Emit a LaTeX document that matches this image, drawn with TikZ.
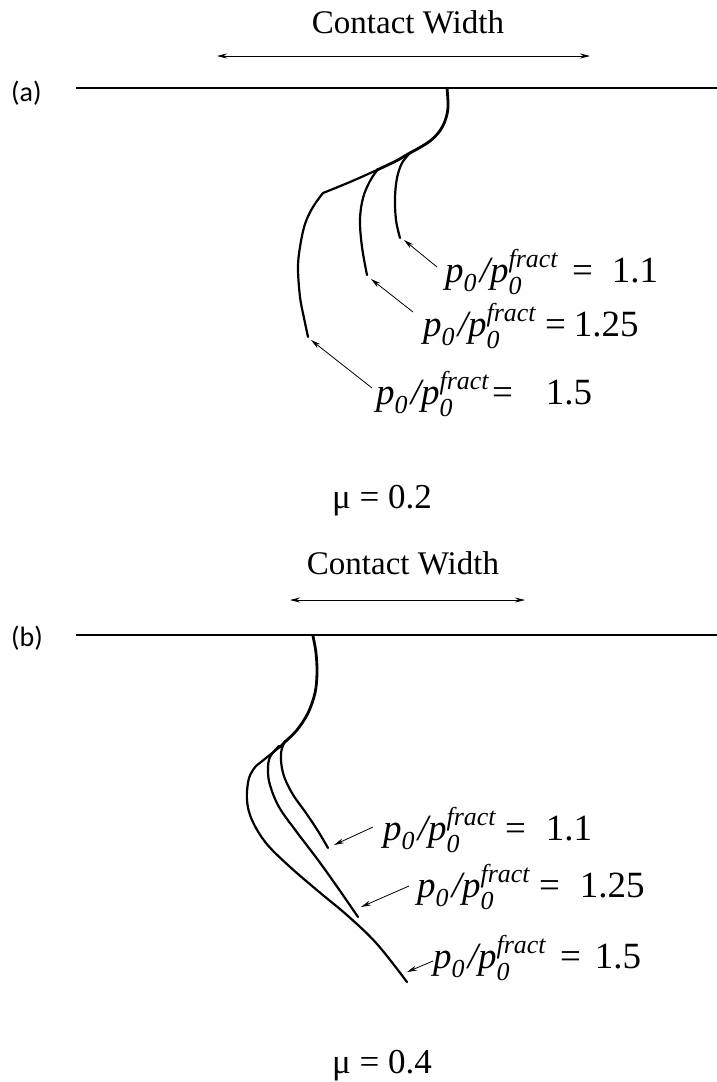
\documentclass[tikz,border=0pt]{standalone}
\usepackage{amsmath}
\usepackage{fontspec}
\setmainfont{Liberation Serif}
\newfontfamily\panelfont{Carlito}
\usetikzlibrary{arrows.meta}
\newcommand{\pratio}{$\text{\itshape p}_{\text{\itshape 0}}\mkern2mu\text{\itshape /}\text{\itshape p}_{\text{\itshape 0}}^{\text{\itshape fract}}$}
\newcommand{\plabel}[3]{\pratio\hspace{#1}=\hspace{#2}#3}
\tikzset{
  surface/.style={line width=1.8pt},
  crack/.style={line width=2.2pt, line cap=round, line join=round},
  bundle/.style={line width=2.8pt, line cap=round, line join=round},
  pointer/.style={line width=0.8pt, -{Stealth[length=10pt,width=5pt]}},
  widtharrow/.style={line width=0.8pt, {Stealth[length=10pt,width=5pt]}-{Stealth[length=10pt,width=5pt]}},
  lab/.style={anchor=base west, inner sep=0pt, font=\fontsize{37}{42}\selectfont},
  cwtext/.style={anchor=base, inner sep=0pt, font=\fontsize{33}{38}\selectfont},
  mutext/.style={anchor=base west, inner sep=0pt, font=\fontsize{35}{40}\selectfont},
  paneltext/.style={anchor=base west, inner sep=0pt, font=\panelfont\fontsize{28}{32}\selectfont},
}
\begin{document}
\begin{tikzpicture}[x=1pt,y=-1pt]
\useasboundingbox (0,0) rectangle (717,1082);
% ---------------- panel (a)
\node[cwtext] (cwa) at (408,33) {Contact Width};
\coordinate (cwaL) at (217,56);
\coordinate (cwaR) at (590,56);
\draw[widtharrow] (cwaL) -- (cwaR);
\node[paneltext] (pa) at (11,101) {(a)};
\coordinate (sa1) at (76,88);
\coordinate (sa2) at (717,88);
\draw[surface] (sa1) -- (sa2);
% cracks (a)
\draw[bundle] plot[smooth, tension=0.6] coordinates {(447,88) (448,107) (445,121) (439,132) (430,141) (419,148) (408,154) (396,161) (377,170)};
\draw[crack] plot[smooth, tension=0.6] coordinates {(377,170) (350,182) (323,193)};
\draw[crack] plot[smooth, tension=0.6] coordinates {(410,153) (402,163) (397,178) (395,198) (396,220) (400,238)};
\draw[crack] plot[smooth, tension=0.6] coordinates {(378,169) (370,181) (363,198) (360,220) (362,247) (367,275)};
\draw[crack] plot[smooth, tension=0.6] coordinates {(323,193) (313,207) (305,224) (300,247) (298,268) (300,297) (304,318) (308,337)};
\coordinate (ta1) at (404,240);
\coordinate (ta2) at (371,279);
\coordinate (ta3) at (311,340);
\node[lab] (la1) at (445,282) {\plabel{14pt}{19pt}{1.1}};
\node[lab] (la2) at (423,336) {\plabel{9pt}{8pt}{1.25}};
\node[lab] (la3) at (376,404) {\plabel{3pt}{33pt}{1.5}};
\coordinate (fa1) at (437,267);
\coordinate (fa2) at (413,312);
\coordinate (fa3) at (372,388);
\draw[pointer] (fa1) -- (ta1);
\draw[pointer] (fa2) -- (ta2);
\draw[pointer] (fa3) -- (ta3);
\node[mutext] (mua) at (332,508) {μ = 0.2};
% ---------------- panel (b)
\node[cwtext] (cwb) at (403,574) {Contact Width};
\coordinate (cwbL) at (290,600);
\coordinate (cwbR) at (525,600);
\draw[widtharrow] (cwbL) -- (cwbR);
\node[paneltext] (pb) at (11,646) {(b)};
\coordinate (sb1) at (76,635);
\coordinate (sb2) at (717,635);
\draw[surface] (sb1) -- (sb2);
% cracks (b)
\draw[bundle] plot[smooth, tension=0.6] coordinates {(313,636) (316,653) (317,673) (315,693) (308,713) (297,730) (286,741) (280,747)};
\draw[crack] plot[smooth, tension=0.6] coordinates {(285,741) (281,753) (283,773) (292,793) (306,813) (318,831) (328,848)};
\draw[crack] plot[smooth, tension=0.6] coordinates {(279,746) (270,757) (268,770) (270,785) (279,807) (296,831) (318,860) (338,888) (358,917)};
\draw[crack] (281,746) -- (256,766);
\draw[crack] plot[smooth, tension=0.6] coordinates {(256,766) (249,778) (247,800) (252,820) (266,843) (289,866) (318,891) (348,916) (377,944) (407,982)};
\coordinate (tb1) at (334,845);
\coordinate (tb2) at (361,907);
\coordinate (tb3) at (407,972);
\node[lab] (lb1) at (383,840) {\plabel{9pt}{20pt}{1.1}};
\node[lab] (lb2) at (417,897) {\plabel{9pt}{20pt}{1.25}};
\node[lab] (lb3) at (433,968) {\plabel{14pt}{14pt}{1.5}};
\coordinate (fb1) at (373,827);
\coordinate (fb2) at (409,886);
\coordinate (fb3) at (433,961);
\draw[pointer] (fb1) -- (tb1);
\draw[pointer] (fb2) -- (tb2);
\draw[pointer] (fb3) -- (tb3);
\node[mutext] (mub) at (332,1073) {μ = 0.4};
\end{tikzpicture}
\end{document}
